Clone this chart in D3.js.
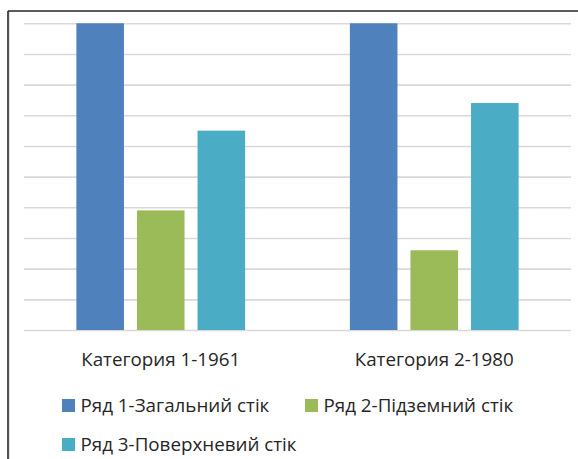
<!DOCTYPE html>
<html>
<head>
<meta charset="utf-8">
<script src="https://cdn.jsdelivr.net/npm/d3@7"></script>
<style>
  html, body { margin: 0; padding: 0; background: #fff; }
  svg { display: block; }
  text { font-family: "Open Sans", "Lato", sans-serif; fill: #262626; }
</style>
</head>
<body>
<svg id="chart" width="578" height="459"></svg>
<script>
// Categories (years) and the three runoff series
const categories = ["Категория 1-1961", "Категория 2-1980"];
const seriesNames = ["Ряд 1-Загальний стік", "Ряд 2-Підземний стік", "Ряд 3-Поверхневий стік"];
const seriesColors = ["#4F81BD", "#9BBB59", "#4BACC6"];
const totalRunoff = [10, 10];
const groundRunoff = [3.9, 2.6];
const surfaceRunoff = [6.5, 7.4];
const gridTicks = [0, 1, 2, 3, 4, 5, 6, 7, 8, 9, 10];

const seriesValues = [totalRunoff, groundRunoff, surfaceRunoff];

const svg = d3.select("#chart");

// Outer frame (left and top edges)
svg.append("line").attr("x1", 9.5).attr("x2", 9.5).attr("y1", 11).attr("y2", 459)
  .attr("stroke", "#e0e0e0").attr("stroke-width", 1);
svg.append("line").attr("x1", 8).attr("x2", 8).attr("y1", 11).attr("y2", 459)
  .attr("stroke", "#262626").attr("stroke-width", 1.6);
svg.append("line").attr("x1", 8).attr("x2", 578).attr("y1", 11).attr("y2", 11)
  .attr("stroke", "#262626").attr("stroke-width", 1.6);

const plot = { left: 24, right: 571, top: 23.3, bottom: 330 };

const y = d3.scaleLinear().domain([0, 10]).range([plot.bottom, plot.top]);

const x0 = d3.scaleBand()
  .domain(categories)
  .range([plot.left, plot.right])
  .paddingInner(0.383)
  .paddingOuter(0.383 / 2);

const x1 = d3.scaleBand()
  .domain(d3.range(seriesNames.length))
  .range([0, x0.bandwidth()])
  .paddingInner(0.2145)
  .paddingOuter(0);

// Horizontal gridlines
const yAxis = d3.axisLeft(y).tickValues(gridTicks)
  .tickSize(-(plot.right - plot.left)).tickFormat("");
const gAxis = svg.append("g").attr("transform", `translate(${plot.left},0)`).call(yAxis);
gAxis.select(".domain").remove();
gAxis.selectAll(".tick line").attr("stroke", "#d9d9d9").attr("stroke-width", 1.6);

// Bars
const groups = svg.selectAll("g.cat")
  .data(categories)
  .join("g")
  .attr("class", "cat")
  .attr("transform", d => `translate(${x0(d)},0)`);

groups.selectAll("rect")
  .data((d, ci) => seriesValues.map((vals, si) => ({ si, v: vals[ci] })))
  .join("rect")
  .attr("x", d => x1(d.si))
  .attr("width", x1.bandwidth())
  .attr("y", d => y(d.v))
  .attr("height", d => y(0) - y(d.v))
  .attr("fill", d => seriesColors[d.si]);

// Category axis labels
const xAxis = d3.axisBottom(x0).tickSize(0).tickPadding(0);
const gx = svg.append("g").attr("transform", `translate(0,${plot.bottom})`).call(xAxis);
gx.select(".domain").remove();
gx.selectAll(".tick text")
  .attr("y", 36)
  .attr("dy", 0)
  .style("font-family", "'Open Sans', Lato, sans-serif")
  .style("font-size", "18.8px")
  .attr("fill", "#262626");

// Legend
const legendPos = [
  { sx: 62, sy: 399 },
  { sx: 305, sy: 399 },
  { sx: 62, sy: 438 }
];
const legend = svg.selectAll("g.legend")
  .data(seriesNames)
  .join("g")
  .attr("class", "legend")
  .attr("transform", (d, i) => `translate(${legendPos[i].sx},${legendPos[i].sy})`);
legend.append("rect")
  .attr("width", 13).attr("height", 13)
  .attr("fill", (d, i) => seriesColors[i]);
legend.append("text")
  .attr("x", 18.5)
  .attr("y", 13)
  .style("font-size", "18.8px")
  .text(d => d);
</script>
</body>
</html>
